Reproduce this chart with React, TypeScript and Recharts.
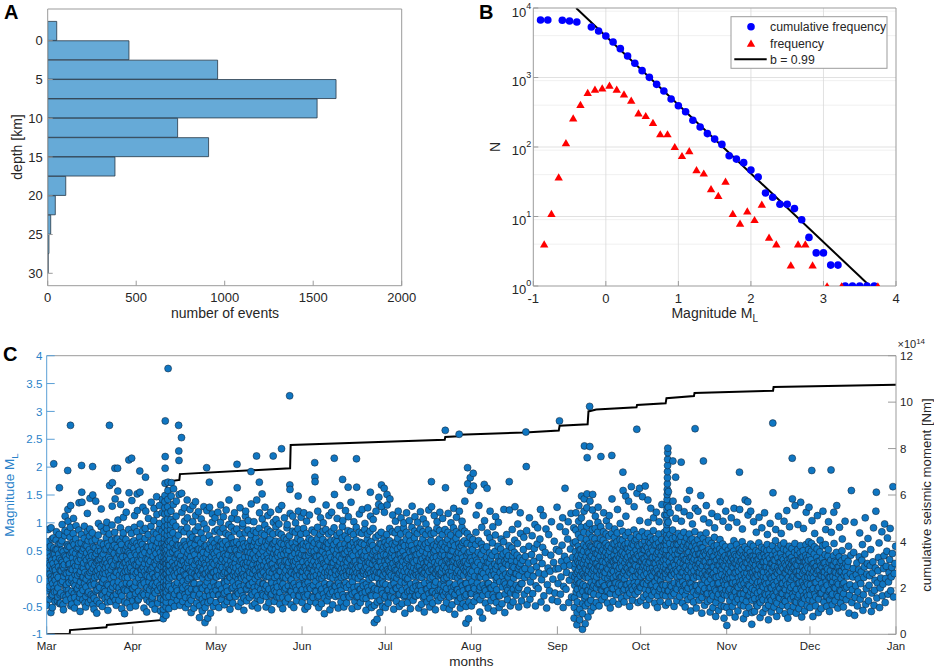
import React from 'react';
import { BarChart, Bar, ComposedChart, Scatter, Line, XAxis, YAxis, CartesianGrid } from 'recharts';

const FONT = '"Liberation Sans", Arial, Helvetica, sans-serif';
const INK = '#262626';
const FRAME = '#9b9b9b';
const MAG_BLUE = '#2a82c9';

// ---- panel A: depth histogram (bin centres, km)
const depthBins = [-1.25, 1.25, 3.75, 6.25, 8.75, 11.25, 13.75, 16.25, 18.75, 21.25, 23.75, 26.25, 28.75];
const depthCounts = [51, 459, 960, 1629, 1522, 734, 909, 380, 102, 43, 17, 7, 3];
const depthTicks = [0, 5, 10, 15, 20, 25, 30];
const eventTicks = [0, 500, 1000, 1500, 2000];

// ---- panel B: frequency-magnitude
const cumMag = [-0.9, -0.8, -0.6, -0.5, -0.4, -0.2, -0.1, 0, 0.1, 0.2, 0.3, 0.4, 0.5, 0.6, 0.7, 0.8, 0.9, 1.0,
  1.1, 1.2, 1.3, 1.4, 1.5, 1.6, 1.7, 1.8, 1.9, 2.0, 2.1, 2.2, 2.3, 2.4, 2.5, 2.6, 2.7, 2.8, 2.9, 3.0,
  3.1, 3.2, 3.3, 3.4, 3.5, 3.6, 3.7];
const cumCount = [6720, 6720, 6650, 6500, 6290, 5330, 4670, 3955, 3240, 2600, 2040, 1600, 1254, 1005, 797, 640, 491, 393,
  322, 242, 194, 156, 130, 109, 75, 67, 59.5, 46.7, 37, 21.8, 18.9, 15, 15, 13, 9, 5, 3, 3,
  2, 2, 1, 1, 1, 1, 1];
const freqMag = [-0.85, -0.75, -0.65, -0.55, -0.45, -0.35, -0.25, -0.15, -0.05, 0.05, 0.15, 0.25, 0.35, 0.45, 0.55,
  0.65, 0.75, 0.85, 0.95, 1.05, 1.15, 1.25, 1.35, 1.45, 1.55, 1.65, 1.75, 1.85, 1.95, 2.05, 2.15, 2.25, 2.35,
  2.55, 2.65, 2.75, 2.85, 3.05, 3.25, 3.75];
const freqCount = [4, 11, 37, 115, 261, 407, 605, 676, 706, 771, 676, 579, 469, 308, 282,
  224, 154, 154, 101, 75, 88, 47, 42, 25, 20, 32, 11, 8, 12, 9, 15, 5, 4,
  2, 4, 4, 2, 1, 1, 1];
const fitMag = [-0.41, 3.64];
const fitCount = [10000, 1];
const magTicksB = [-1, 0, 1, 2, 3, 4];
const countTicks = [1, 10, 100, 1000, 10000];
const minorMultipliers = [2, 3, 4, 5, 6, 7, 8, 9];

// ---- panel C: events per day, magnitudes in hundredths
const monthNames = ['Mar', 'Apr', 'May', 'Jun', 'Jul', 'Aug', 'Sep', 'Oct', 'Nov', 'Dec', 'Jan'];
const monthLengths = [31, 30, 31, 30, 31, 31, 30, 31, 30, 31];

const marQuakes = [
  '-48 -22 -5 12 31 47 66 88 19', '-37 -14 8 24 39 58 -61 91 3', '-52 -29 -9 17 27 44 73 206 55 -18',
  '-41 -3 15 36 52 69 84 -24 6', '-33 -17 2 21 44 62 79 163 -45', '-44 -26 -8 14 33 51 68 97 29',
  '-56 -31 4 18 25 41 77 86 112', '-39 -19 -11 9 34 53 61 83 194 124 103', '-28 -7 11 26 42 57 74 92 275 131 -49',
  '-46 -23 1 16 37 48 65 81 108', '-53 -34 -13 7 22 45 71 95 -2', '-42 -18 6 23 31 56 63 87 136',
  '-59 -27 -6 13 35 43 64 79 203 155 137', '-38 -21 3 19 28 54 72 94 -9', '-51 -32 -15 -1 33 46 59 84 117',
  '-43 -24 5 22 38 52 76 89 144 11', '-29 -12 14 27 41 67 82 201 150 -47', '-55 -35 -10 2 24 40 55 70 139',
  '-62 -40 -20 4 15 32 50 78 99', '-45 -16 7 18 36 49 64 93 125', '-50 -30 -7 10 26 44 61 85 -1',
  '-36 -23 9 20 34 53 73 90 101', '-57 -33 -12 12 21 39 58 80 275 167', '-41 -19 0 16 30 51 69 96 130 172',
  '-32 -8 4 25 45 60 83 198 143', '-48 -28 -14 11 37 55 71 198 157 105', '-39 -17 6 24 43 50 66 91 133',
  '-54 -31 -11 3 23 39 75 82 110', '-63 -42 -21 1 13 29 52 70 119', '-44 -22 2 14 33 48 62 88 213 154',
  '-52 -30 -9 15 20 41 59 81 216 140',
];
const marDense = [
  '-17 27 8 56', '-31 -2 33 71', '3 -24 44 19', '-11 52 -40 29', '36 -29 15 63', '-5 22 -47 48', '10 -15 39 -33',
  '58 -21 25 1', '-36 17 46 -3', '28 -9 61 -27', '14 35 -20 54', '-12 42 -34 9', '21 -17 50 2', '-44 11 37 60',
  '7 -26 24 68', '-8 31 -38 46', '18 -31 57 -4', '-22 12 45 29', '34 -13 22 59', '-29 3 41 -6', '16 -19 52 30',
  '-10 27 -42 63', '5 -27 34 49', '-15 22 58 -33', '-39 12 33 71', '24 -6 47 -22', '-25 15 36 61', '9 -19 51 28',
  '-8 40 19 57', '-33 26 -12 45', '30 -18 6 66',
];
const aprQuakes = [
  '-40 -18 4 13 32 54 68 92 113', '-49 -27 -6 9 24 42 63 84 152 122', '-37 -23 1 22 30 51 74 193 155 98',
  '-31 -12 7 16 35 43 61 86 128', '-53 -29 -8 12 27 47 72 90 182 121', '-60 -38 -16 5 18 34 56 79 108',
  '-42 -20 3 15 31 49 66 94 137', '-47 -33 -10 8 21 40 70 83 104 126', '-55 -26 -13 2 25 45 58 80 147 115',
  '-44 -21 6 17 36 53 73 89 131 99', '-58 -36 -17 0 22 39 62 85 118 142',
  '-72 -63 -55 -46 -38 -27 -15 -6 4 13 21 30 38 47 55 64 72 81 93 104 116 127 138 149 171 198 219 283 -31 8 33 58 -11 26 49 -20 17 42',
  '-66 -51 -42 -33 -24 -12 -3 9 18 27 36 44 53 61 70 78 87 96 107 118 129 142 158 173 377 -19 14 41 66 2 31 24 -8',
  '-54 -32 -14 1 12 24 35 46 57 68 79 88 97 106 121 148 172 -22', '-43 -19 3 16 29 48 63 82 101 133 161',
  '-50 -28 -11 5 23 37 52 71 94 112 139', '-39 -22 -7 10 28 44 59 78 275 229 212 151',
  '-48 -31 2 14 26 40 60 88 253 153 119', '-41 -17 -5 13 31 50 67 84 127 103', '-52 -34 -12 6 20 38 57 91 141 109',
  '-45 -24 0 18 33 51 69 80 124', '-61 -39 -19 3 11 30 54 74 102 131', '-53 -30 -9 8 25 43 61 86 138 113',
  '-44 -20 4 15 34 52 70 93 120', '-70 -49 -28 -10 7 21 41 64 82 107', '-58 -37 -18 1 16 35 47 72 129 98',
  '-79 -52 -31 -12 9 24 38 59 89 199 122', '-71 -43 -22 2 12 33 53 77 173 128', '-62 -40 -14 5 19 39 56 69 101 116',
  '-50 -29 -7 11 26 44 63 85 109',
];
const aprDense = [
  '-14 25 46 -31', '12 -39 33 58', '-9 41 16 65', '-26 20 52 -3', '6 35 -19 57', '-29 26 -6 44', '17 -13 58 -37',
  '-22 28 2 51', '33 -7 14 65', '-13 24 -35 47', '11 -24 55 30', '', '', '', '-33 22 9 54', '-16 17 43 60',
  '20 -30 36 3', '-12 32 55 -21', '7 -29 24 60', '-3 28 45 -18', '-35 13 39 62', '21 -8 48 -28', '-19 4 32 70',
  '13 -32 53 27', '-17 29 52 14', '-44 8 27 58', '18 -6 45 -22', '-31 25 63 7', '29 -24 11 47', '-15 36 55 3',
];
const mayQuakes = [
  '-43 -21 3 14 32 49 71 88 119', '-52 -30 -11 6 22 41 58 83 101 132', '-38 -19 5 20 35 54 62 90 111',
  '-47 -26 -8 12 29 40 67 81 123', '-41 -23 -4 10 24 43 60 78 97 141', '-55 -33 2 15 31 52 73 92 108',
  '-44 -16 -6 7 21 38 64 85 118', '-32 -13 4 19 36 50 66 89 205 163 106', '-50 -27 -9 13 23 42 61 80 127',
  '-42 -22 1 16 33 55 70 94 99', '-57 -35 -12 3 18 39 57 82 112 121', '-40 -18 6 22 30 48 63 87 104',
  '-34 -11 2 11 28 46 69 79 192 134', '-49 -29 -7 9 25 44 59 86 102', '-45 -24 0 14 37 51 72 83 220 141',
  '-53 -31 -14 4 20 41 65 90 173 118', '-39 -20 7 21 34 53 68 81 152 107', '-30 -10 11 24 39 57 78 96 128',
  '-51 -32 -13 5 19 43 60 88 113', '-43 -19 3 12 31 50 71 84 119', '-56 -28 -8 10 26 38 62 80 220 101',
  '-41 -22 2 17 35 52 67 93 106', '-33 -15 5 23 40 47 58 82 124 98', '-46 -25 -5 13 30 42 63 79 233 131',
  '-54 -34 -10 4 21 44 61 73 109', '-42 -17 1 15 32 49 70 91 97', '-35 -13 6 22 29 51 60 77 328 168 160 117',
  '-47 -23 -2 11 33 40 64 85 112', '-52 -30 -9 8 24 45 57 83 100', '-40 -21 4 16 36 53 72 89 148 121',
  '-31 -12 7 20 38 56 68 80 110',
];
const mayDense = [
  '-12 24 58 -29', '15 -37 31 66', '-28 9 44 -6', '21 -15 55 35', '-33 17 3 52', '-18 24 40 63', '12 -30 53 27',
  '-24 9 43 -2', '31 -15 52 4', '-31 8 27 62', '25 -3 48 -20', '-12 39 13 57', '-26 21 37 58', '16 -16 34 66',
  '-35 6 25 59', '27 -7 45 12', '-27 14 -9 49', '-18 3 31 66', '22 -24 36 68', '-30 25 55 -6', '18 -17 45 63',
  '-25 10 -9 44', '-33 14 29 66', '23 -14 51 2', '-20 31 11 52', '-31 24 43 63', '13 -22 39 -4', '-13 23 55 30',
  '31 -16 12 66', '-30 25 45 -8', '-22 13 43 59',
];
const junQuakes = [
  '-43 -20 2 13 30 52 62 90 118', '-55 -33 -11 5 21 40 59 81 103', '-50 -29 -7 10 27 42 58 72 114',
  '-41 -18 4 19 33 50 69 87 142', '-34 -12 3 14 31 48 64 83 208 182 174', '-44 -23 6 24 39 53 71 92 121',
  '-52 -31 -13 1 22 41 60 79 109', '-45 -19 0 16 35 49 70 85 100', '-63 -35 -9 11 25 43 57 88 132',
  '-40 -22 5 12 32 54 63 80 113', '-56 -27 -10 3 20 38 68 84 119', '-47 -24 1 21 29 51 61 91 216 151',
  '-32 -14 7 15 34 44 66 78 108', '-53 -30 -8 9 23 40 58 82 131', '-42 -21 2 17 36 52 73 93 178 104',
  '-51 -34 -12 4 19 45 62 77 122', '-44 -16 6 22 30 49 71 86 164 111', '-33 -11 8 13 35 53 60 84 137',
  '-54 -28 -6 12 24 41 65 79 102', '-41 -25 3 18 31 50 69 92 215 164', '-50 -32 -14 0 20 43 56 83 116',
  '-43 -19 5 23 33 47 63 81 124', '-35 -13 9 14 37 42 61 88 99', '-57 -36 -10 7 21 39 70 80 127',
  '-46 -22 -1 15 28 52 64 85 155 112', '-52 -31 -13 2 26 44 59 90 106', '-79 -48 -18 4 16 32 51 74 121',
  '-73 -42 -20 1 22 38 55 78 133 146', '-61 -39 -9 10 30 41 62 83 168 129', '-50 -27 -8 6 18 43 57 71 162 119',
];
const junDense = [
  '-30 20 41 -8', '14 -19 31 65', '-15 19 47 3', '25 -32 11 58', '-22 22 40 -5', '-33 15 30 62', '8 -21 33 50',
  '-28 27 5 58', '20 -16 37 65', '-31 15 45 -11', '11 -19 28 55', '-13 36 15 70', '-24 23 53 -3', '30 -14 14 60',
  '-29 10 44 26', '-8 33 53 13', '-30 14 37 59', '23 -21 44 2', '-16 30 55 7', '-33 11 24 62', '9 -20 33 65',
  '-27 12 39 -7', '19 -24 50 27', '-16 30 11 55', '-30 10 38 66', '14 -20 49 33', '-31 25 40 12', '10 -9 31 63',
  '-21 22 50 -2', '-35 12 31 65',
];
const julQuakes = [
  '-52 -31 -11 9 24 42 58 79 151 132', '-44 -20 3 13 32 51 68 90 143', '-33 -12 6 20 38 47 62 84 114',
  '-55 -35 -9 4 19 40 60 82 103', '-41 -18 1 15 34 53 72 88 121', '-50 -28 -13 10 23 44 57 80 109',
  '-45 -21 5 22 31 49 64 91 100', '-62 -30 -7 2 25 41 70 83 118', '-43 -24 0 12 36 52 61 78 104',
  '-54 -33 -10 8 21 38 59 92 130', '-39 -17 4 19 29 51 73 85 111', '-31 -14 7 16 33 43 63 81 101',
  '-53 -29 -12 3 22 45 56 89 120', '-46 -22 2 14 35 50 71 84 107', '-60 -32 -8 11 20 40 62 79 98',
  '-42 -19 6 18 30 54 65 87 123', '-51 -36 -13 1 24 43 69 80 174 129', '-44 -23 3 15 37 48 60 82 113',
  '-56 -27 -6 9 21 39 58 90 102', '-40 -21 5 17 32 52 71 86 119', '-34 -10 8 12 28 44 63 79 108',
  '-52 -30 -14 0 23 41 57 88 266 163', '-43 -18 2 19 34 53 70 83 117', '-55 -33 -9 7 26 42 61 78 100',
  '-47 -24 4 21 31 50 66 91 126', '-64 -28 -11 3 19 38 72 84 110', '-41 -20 1 14 36 47 62 80 259 121',
  '-53 -35 -7 10 25 44 59 92 103', '-45 -22 6 18 30 51 68 85 139', '-80 -50 -29 -9 12 22 41 63 81 199 170',
  '-72 -42 -18 2 15 33 48 74 181 158',
];
const julDense = [
  '-21 16 34 61', '11 -30 40 24', '-22 27 52 -4', '15 -17 32 66', '-29 8 43 25', '-6 36 15 64', '-32 13 40 59',
  '18 -17 33 -2', '-22 23 48 67', '12 -22 31 50', '-31 10 42 -8', '22 -22 54 8', '-13 31 14 63', '-34 9 27 58',
  '21 -19 46 31', '-27 13 37 -5', '16 -24 33 57', '-12 29 51 10', '-32 15 26 67', '8 -20 41 60', '-24 19 51 -3',
  '14 -24 32 66', '-30 11 42 28', '20 -17 50 13', '-14 33 -31 59', '10 -20 44 27', '-25 28 56 6', '22 -13 37 65',
  '-32 14 31 -8', '27 -18 46 5', '-27 9 37 60',
];
const augQuakes = [
  '-49 -27 -6 13 31 52 70 189 166', '-41 -18 4 22 40 61 83 114', '-33 -8 14 29 47 68 131',
  '-60 -38 -15 3 24 43 62 92', '-71 -30 -11 9 33 51 169 104', '-44 -22 1 19 38 57 162 82',
  '-53 -29 -9 12 28 46 73 121', '-40 -17 6 21 42 64 93', '-58 -34 -12 7 26 49 78 111',
  '-43 -20 2 23 39 58 101', '-52 -31 -6 11 30 53 71', '-45 -15 4 17 44 66 124',
  '-61 -28 -10 8 27 48 79', '-38 -21 3 24 41 59 174 123', '-49 -26 -8 13 32 55 88',
  '-42 -19 1 20 47 69 129', '-30 -12 9 31 42 63 98', '-51 -16 5 22 37 118 81',
  '-40 -9 14 33 52 74', '-28 2 18 40 263 201 86', '-47 -21 7 28 58 109', '-37 -6 16 43 77',
  '-27 4 31 54 97', '-49 -13 21 62 91', '-18 10 38 71 124', '-42 -2 27 56 113', '-31 8 47 89',
  '-53 -11 19 79', '-22 13 42 102', '-38 -1 29 67', '-26 17 52 128',
];
const augDense = [
  '-15 24', '-30 33', '3 -20', '12 55', '-18 21', '29 -9', '-17 36', '-29 13', '17 -2', '-31 31', '22 41', '-6 30',
  '-17 36', '10 -11', '22 41', '-28 9', '-20 18', '27 -9',
];
const sepQuakes = [
  '-41 -9 18 49 283 93', '-28 3 31 60 109', '-52 -14 22 40 162 84', '-19 11 33 71 102', '-43 -3 24 53 117',
  '-33 6 38 64 91', '-71 -52 -34 -12 3 19 27 48 66 87 118', '-83 -61 -42 -19 -2 12 30 41 58 79 103 131',
  '-74 -55 -28 -8 5 21 37 52 73 92 109 148', '-91 -63 -45 -23 -11 8 26 49 61 83 121 143 238',
  '-81 -49 -31 -14 2 17 39 57 70 94 127 152 217', '-69 -44 -21 1 14 33 46 62 81 99 309 237 139',
  '-58 -39 -24 -7 9 23 41 56 74 88 123 151', '-51 -28 -12 4 18 36 53 71 90 112',
  '-43 -17 3 15 27 44 61 83 101 128', '-49 -30 -9 8 22 40 58 72 93 219', '-38 -21 -6 6 20 31 52 69 84 118',
  '-32 -13 2 11 29 47 63 80 104', '-44 -22 0 17 34 43 59 76 94 113', '-53 -27 -11 9 24 38 55 81 221 143',
  '-41 -18 1 13 30 42 62 74 89', '-29 -8 5 22 35 50 66 82 124', '-46 -24 -10 7 19 37 54 70 99',
  '-35 -12 3 21 33 48 69 85 191 158', '-42 -19 -1 14 28 45 61 77 148 112', '-31 -11 6 18 39 53 64 83 139',
  '-50 -26 -8 10 25 41 56 73 165', '-39 -20 2 15 32 46 60 87 129', '-28 -14 4 23 36 51 71 79 268 153',
  '-43 -23 -7 8 21 40 58 75 162 104',
];
const sepDense = [
  '', '', '', '', '', '', '-24 9 36 -6', '16 -9 27 51', '-17 28 43 12', '-35 4 34 19', '-22 26 48 7',
  '-12 22 39 58', '-15 15 31 50', '-4 27 45 62', '-10 21 36 52', '-20 14 31 49', '-14 12 41 60', '-23 19 38 56',
  '-9 26 49 5', '-18 15 31 63', '-8 23 51 34', '-16 14 41 58', '2 28 45 61', '-22 10 41 58', '-11 20 35 54',
  '-20 12 28 47', '-15 16 33 62', '-8 25 38 68', '-20 12 43 60', '-15 14 31 49',
];
const octQuakes = [
  '-40 -16 3 12 31 43 62 84 147', '-33 -9 6 24 35 52 67 76 166', '-48 -29 -10 9 20 41 55 81 141 101',
  '-37 -21 2 17 30 44 63 74 126', '-30 -11 5 19 38 50 69 86 109', '-44 -24 -6 11 27 39 61 72 119',
  '-52 -31 1 14 33 48 64 80 102', '-41 -18 -4 8 22 42 57 70 133', '-29 -12 4 21 34 53 60 83 114',
  '-48 -31 -12 2 9 18 26 35 44 52 61 69 78 88 97 106 115 124 133 142 151 160 170 181 192 203 214 226 234 -22 13 41 73 101 128 156',
  '-43 -22 0 15 29 41 63 79 118', '-31 -14 6 20 37 49 72 87 211 139', '-50 -27 -8 9 24 43 52 74 182 108',
  '-40 -19 3 13 33 45 61 81 127', '-32 -10 5 18 29 51 66 76 209 103', '-44 -23 -6 12 26 40 59 83 120',
  '-51 -30 -11 4 22 34 54 73 142', '-38 -17 2 16 31 47 62 80 158 113', '-58 -33 -9 10 21 39 57 71 98',
  '-42 -24 1 14 35 50 64 84 269 126', '-53 -29 -13 5 19 32 53 70 121', '-39 -20 3 11 28 44 61 78 149',
  '-62 -34 -12 8 23 41 55 72 211 107', '-48 -18 -2 13 30 43 65 82 131', '-41 -27 -7 6 20 37 52 69 100',
  '-60 -38 -16 -1 14 29 48 63 117', '-52 -31 -10 9 21 40 58 74 91', '-68 -43 -22 2 15 33 51 60 111',
  '-57 -28 -8 4 24 38 53 70 138', '-49 -37 -19 7 18 31 49 62 103', '-71 -50 -29 -11 3 22 41 57 121',
];
const octDense = [
  '-8 21 36 52', '-20 14 29 58', '-3 27 47 66', '-12 10 37 55', '-21 13 28 60', '-14 18 45 3', '-22 8 27 56',
  '-11 30 49 14', '-20 11 40 65', '', '-12 21 52 7', '-24 13 28 60', '-17 16 34 61', '-8 24 51 70', '-20 11 38 55',
  '-13 20 34 66', '-21 12 45 60', '-8 23 38 69', '-16 3 31 47', '-12 23 43 58', '-22 11 26 44', '-10 19 36 55',
  '-23 1 31 47', '-28 7 22 50', '-17 13 29 44', '-27 7 21 39', '-19 2 31 49', '-33 -9 24 43', '-19 14 31 46',
  '-27 -5 24 38', '-21 -2 13 33',
];
const novQuakes = [
  '-84 -52 -30 -12 1 18 37 51 92', '-61 -40 -19 0 12 31 44 58 109', '-50 -33 -8 3 20 34 49 68 126',
  '-69 -42 -24 -7 11 27 40 61 101', '-58 -37 -16 2 13 23 42 53 191 124', '-47 -28 -11 5 18 32 51 66 89',
  '-72 -49 -27 -9 9 21 38 57 141', '-63 -41 -20 -3 10 28 43 52 138 114', '-52 -30 -13 4 19 33 47 62 121',
  '-82 -61 -39 -18 -4 11 29 40 58 102', '-59 -36 -21 1 14 24 41 50 83', '-49 -26 -7 6 17 35 48 64 110',
  '-70 -43 -23 -6 8 22 39 56 91', '-61 -38 -15 3 12 30 44 53 118', '-53 -29 -10 2 21 31 50 61 79',
  '-74 -48 -28 -8 7 19 36 52 99', '-60 -39 -17 0 14 27 42 59 279 154', '-51 -32 -12 4 22 33 49 68 88',
  '-68 -44 -24 -5 9 20 37 55 112', '-57 -35 -18 1 13 29 45 60 81', '-48 -27 -9 3 18 34 53 64 103',
  '-63 -41 -20 -4 10 23 41 51 122', '-71 -50 -31 2 15 28 44 58 93', '-59 -37 -16 -2 11 25 38 54 216 143',
  '-50 -33 -12 5 20 31 47 63 131', '-62 -42 -19 0 12 24 43 52 97', '-54 -29 -8 6 14 32 46 59 137',
  '-69 -45 -22 -6 9 21 39 50 90', '-58 -36 -15 1 16 30 42 61 119', '-49 -31 -10 3 19 33 52 66 128',
];
const novDense = [
  '-22 8 26 44', '-30 -8 22 37', '-21 10 28 43', '-33 -14 19 33', '-27 -6 30 47', '-37 -3 25 41', '-18 2 29 46',
  '-31 -11 18 36', '-24 10 26 40', '-29 3 19 34', '-47 -11 8 33', '-36 -16 25 41', '-33 -13 14 30', '-27 -5 21 38',
  '-40 -19 12 41', '-34 -16 2 27', '-28 -8 20 34', '-41 -21 12 42', '-33 -14 15 29', '-26 -9 21 37',
  '-38 -18 10 27', '-30 -11 16 33', '-21 -9 21 36', '-28 3 18 31', '-41 -23 12 26', '-33 -9 6 33',
  '-43 -18 22 38', '-31 -12 14 30', '-25 -6 23 37', '-38 -20 9 42',
];
const decQuakes = [
  '-52 -29 -11 2 18 34 49 63 194 104', '-68 -40 -18 1 13 27 44 57 81', '-49 -33 -7 9 22 38 53 113',
  '-61 -37 -16 0 15 31 48 69', '-54 -26 -9 5 20 36 59 121', '-42 -19 3 12 28 43 61 88',
  '-50 -31 -12 7 17 40 52 102', '-59 -38 -21 2 14 33 195 83', '-47 -28 -6 4 24 41 119 63',
  '-40 -17 1 11 29 47 131', '-53 -32 -10 8 21 39 92', '-44 -22 0 13 32 50 71', '-51 -27 -8 6 19 37 103',
  '-38 -15 4 22 31 58', '-62 -30 -11 9 42 158', '-43 -20 3 18 47 101', '-66 -34 -13 7 28',
  '-49 -24 -1 16 39 82', '-37 -9 12 33 61', '-57 -29 2 21 44 109', '-46 -18 8 27 72', '-40 -12 5 23 52',
  '-59 -26 10 30 91', '-48 -21 -3 19 121 155', '-35 -8 14 38 64', '-52 -17 1 29 84', '-31 -10 18 41 98',
  '-43 0 22 49 73', '-28 -6 11 34 90', '-22 3 20 45 165', '-33 9 27 58',
];
const decDense = [
  '-20 9 26', '-28 -7 20', '-19 14 31', '-27 6 23', '-17 12 28', '-32 -6 20', '-23 2 29', '-30 -9 24',
  '-16 12 31', '-28 -7 20', '-21 13 29', '-33 -10 22', '-17 11 27',
];

// cumulative seismic moment (x10^14 Nm) against days since 1 Mar
const momentDay = [0, 8.3, 8.4, 21.5, 21.7, 41.9, 42.1, 42.9, 43.2, 45.0, 47.8, 48.0, 87.7, 87.9, 143.4,
  143.6, 148.3, 148.5, 172.3, 184.5, 184.8, 194.9, 195.2, 198, 212.5, 212.7, 223.0, 223.3, 233.2, 233.4,
  261.7, 261.9, 306];
const momentValue = [0, 0.02, 0.18, 0.3, 0.4, 0.62, 0.8, 0.85, 6.5, 6.6, 6.65, 6.9, 7.15, 8.15, 8.38,
  8.5, 8.53, 8.6, 8.69, 8.78, 8.98, 9.05, 9.6, 9.68, 9.78, 9.88, 9.95, 10.17, 10.26, 10.39,
  10.49, 10.65, 10.75];
const magTicksC = [-1, -0.5, 0, 0.5, 1, 1.5, 2, 2.5, 3, 3.5, 4];
const momentTicks = [0, 2, 4, 6, 8, 10, 12];

const monthTicks = monthLengths.reduce((acc, len) => [...acc, acc[acc.length - 1] + len], [0]);
const catalogue = [
  [marQuakes, marDense], [aprQuakes, aprDense], [mayQuakes, mayDense], [junQuakes, junDense],
  [julQuakes, julDense], [augQuakes, augDense], [sepQuakes, sepDense], [octQuakes, octDense],
  [novQuakes, novDense], [decQuakes, decDense],
];
const quakes = catalogue.flatMap(([days, extra], mi) => days.flatMap((day, d) => {
  const mags = `${day} ${extra[d] ?? ''}`.trim().split(/\s+/);
  // events spread through the day in listed order
  return mags.map((v, i) => ({ t: monthTicks[mi] + d + (i + 0.5) / mags.length, m: Number(v) / 100 }));
}));
const moment = momentDay.map((t, i) => ({ t, mo: momentValue[i] }));

const AxisTitle = ({ draw }: any) => draw();

const PowTick = ({ x, y, payload }: any) => (
  <text x={x} y={y + 8} textAnchor="end" fill={INK} fontSize={13} fontFamily={FONT}>
    10<tspan dy={-8} fontSize={9}>{Math.round(Math.log10(payload.value))}</tspan>
  </text>
);

const blueDot = ({ cx, cy }: any) => <circle cx={cx} cy={cy} r={3.8} fill="#0000ff" />;
const redTriangle = ({ cx, cy }: any) => (
  <polygon points={`${cx},${cy - 3.8} ${cx + 4.2},${cy + 3.4} ${cx - 4.2},${cy + 3.4}`} fill="#ff0000" />
);
const quakeDot = ({ cx, cy }: any) => (
  <circle cx={cx} cy={cy} r={3.5} fill="#0f76c2" stroke="#14273a" strokeWidth={0.55} />
);

const tickAB = { fill: INK, fontSize: 13, fontFamily: FONT };
const tickC = { fill: INK, fontSize: 11.5, fontFamily: FONT };

function DepthPanel() {
  const data = depthBins.map((depth, i) => ({ depth, count: depthCounts[i] }));
  return (
    <BarChart width={420} height={330} data={data} layout="vertical" barCategoryGap={0} barGap={0}
      margin={{ top: 8, right: 17.3, bottom: 4.3, left: 0 }}>
      <XAxis type="number" dataKey="count" domain={[0, 2000]} ticks={eventTicks} allowDataOverflow height={40}
        stroke={FRAME} tickSize={-5} tickMargin={12.3} tick={tickAB}
        label={<AxisTitle draw={() => (
          <text x={225} y={318} textAnchor="middle" fontSize={14} fill={INK} fontFamily={FONT}>number of events</text>
        )} />} />
      <XAxis xAxisId="top" orientation="top" type="number" domain={[0, 2000]} ticks={eventTicks} allowDataOverflow
        height={1} stroke={FRAME} tickSize={-5} tick={false} />
      <YAxis type="number" dataKey="depth" domain={[-4.1, 31.6]} ticks={depthTicks} allowDataOverflow
        width={47.7} stroke={FRAME} tickSize={-5} tickMargin={10} tick={tickAB}
        label={<AxisTitle draw={() => (
          <text transform="translate(22,147) rotate(-90)" textAnchor="middle" fontSize={14} fill={INK} fontFamily={FONT}>depth [km]</text>
        )} />} />
      <YAxis yAxisId="right" orientation="right" type="number" domain={[-4.1, 31.6]} ticks={depthTicks}
        allowDataOverflow width={1} stroke={FRAME} tickSize={-5} tick={false} />
      <Bar dataKey="count" fill="#66aad7" stroke="#263746" strokeWidth={0.8} isAnimationActive={false} />
    </BarChart>
  );
}

function GutenbergPanel() {
  const cum = cumMag.map((m, i) => ({ m, n: cumCount[i] }));
  const freq = freqMag.map((m, i) => ({ m, n: freqCount[i] }));
  const fit = fitMag.map((m, i) => ({ m, n: fitCount[i] }));
  const minorN = [1, 10, 100, 1000].flatMap((d) => minorMultipliers.map((k) => d * k));
  return (
    <ComposedChart width={514} height={330} margin={{ top: 7, right: 37, bottom: 4, left: 0 }}>
      <CartesianGrid vertical={false} horizontalValues={minorN} stroke="#ececec" strokeWidth={0.8} />
      <CartesianGrid horizontalValues={[10, 100, 1000]} verticalValues={[0, 1, 2, 3]} stroke="#d9d9d9" strokeWidth={0.8} />
      <XAxis type="number" dataKey="m" domain={[-1, 4]} ticks={magTicksB} allowDataOverflow height={40}
        stroke={FRAME} tickSize={-5} tickMargin={13} tick={tickAB}
        label={<AxisTitle draw={() => (
          <text x={294.7} y={318} textAnchor="middle" fontSize={14} fill={INK} fontFamily={FONT}>
            Magnitude M<tspan dy={4} fontSize={10}>L</tspan>
          </text>
        )} />} />
      <XAxis xAxisId="top" orientation="top" type="number" domain={[-1, 4]} ticks={magTicksB} allowDataOverflow
        height={1} stroke={FRAME} tickSize={-5} tick={false} />
      <YAxis type="number" dataKey="n" scale="log" domain={[1, 10000]} ticks={countTicks} allowDataOverflow
        width={113.3} stroke={FRAME} tickSize={-5} tickMargin={7} tick={<PowTick />}
        label={<AxisTitle draw={() => (
          <text transform="translate(80,147) rotate(-90)" textAnchor="middle" fontSize={14} fill={INK} fontFamily={FONT}>N</text>
        )} />} />
      <YAxis yAxisId="right" orientation="right" type="number" scale="log" domain={[1, 10000]} ticks={countTicks}
        allowDataOverflow width={1} stroke={FRAME} tickSize={-5} tick={false} />
      <Scatter data={cum} shape={blueDot} isAnimationActive={false} />
      <Scatter data={freq} shape={redTriangle} isAnimationActive={false} />
      <Line data={fit} dataKey="n" stroke="#000" strokeWidth={2} dot={false} isAnimationActive={false} />
    </ComposedChart>
  );
}

function TimelinePanel() {
  return (
    <ComposedChart width={934} height={349} margin={{ top: 34.7, right: 0, bottom: 0, left: 0 }}>
      <XAxis type="number" dataKey="t" domain={[0, 306]} ticks={monthTicks} allowDataOverflow height={34.7}
        tickFormatter={(v) => monthNames[monthTicks.indexOf(v)]}
        stroke={FRAME} tickSize={-8} tickMargin={16} tick={tickC}
        label={<AxisTitle draw={() => (
          <text x={471.3} y={346} textAnchor="middle" fontSize={13.5} fill={INK} fontFamily={FONT}>months</text>
        )} />} />
      <XAxis xAxisId="top" orientation="top" type="number" domain={[0, 306]} ticks={monthTicks} allowDataOverflow
        height={1} stroke={FRAME} tickSize={-8} tick={false}
        label={<AxisTitle draw={() => (
          <text x={897.5} y={27.5} fontSize={11} fill={INK} fontFamily={FONT}>
            ×10<tspan dy={-4} fontSize={8}>14</tspan>
          </text>
        )} />} />
      <YAxis yAxisId="mag" type="number" dataKey="m" domain={[-1, 4]} ticks={magTicksC} allowDataOverflow
        width={46.7} stroke="#5a9fd6" tickSize={-8} tickMargin={12.4}
        tick={{ fill: MAG_BLUE, fontSize: 11.5, fontFamily: FONT }}
        label={<AxisTitle draw={() => (
          <text transform="translate(14,175) rotate(-90)" textAnchor="middle" fontSize={13.5} fill={MAG_BLUE} fontFamily={FONT}>
            Magnitude M<tspan dy={4} fontSize={9.5}>L</tspan>
          </text>
        )} />} />
      <YAxis yAxisId="mo" orientation="right" type="number" domain={[0, 12]} ticks={momentTicks} allowDataOverflow
        width={38} stroke={FRAME} tickSize={-8} tickMargin={12} tick={tickC}
        label={<AxisTitle draw={() => (
          <text transform="translate(931,175) rotate(-90)" textAnchor="middle" fontSize={13.2} fill={INK} fontFamily={FONT}>
            cumulative seismic moment [Nm]
          </text>
        )} />} />
      <Scatter yAxisId="mag" data={quakes} shape={quakeDot} isAnimationActive={false} />
      <Line yAxisId="mo" data={moment} dataKey="mo" stroke="#000" strokeWidth={2} dot={false} isAnimationActive={false} />
    </ComposedChart>
  );
}

export default function App() {
  return (
    <div style={{ position: 'absolute', left: 0, top: 0, width: 934, height: 669, background: '#fff', fontFamily: FONT }}>
      <div style={{ position: 'absolute', left: 0, top: 0 }}><DepthPanel /></div>
      <div style={{ position: 'absolute', left: 420, top: 0 }}><GutenbergPanel /></div>
      <div style={{ position: 'absolute', left: 0, top: 320 }}><TimelinePanel /></div>
      <svg width={934} height={669} style={{ position: 'absolute', left: 0, top: 0, pointerEvents: 'none' }}>
        <g fontFamily={FONT} fontWeight="bold" fontSize={20} fill="#000">
          <text x={4} y={19}>A</text>
          <text x={479} y={19}>B</text>
          <text x={3} y={361}>C</text>
        </g>
        <g fontFamily={FONT} fontSize={12.3} fill={INK}>
          <rect x={731} y={16.7} width={156} height={51.6} fill="#fff" stroke={FRAME} />
          <circle cx={751} cy={26.7} r={3.8} fill="#0000ff" />
          <text x={770} y={31}>cumulative frequency</text>
          <polygon points="751,39.5 755.2,46.7 746.8,46.7" fill="#ff0000" />
          <text x={770} y={47.5}>frequency</text>
          <line x1={734.3} x2={766.7} y1={59.3} y2={59.3} stroke="#000" strokeWidth={2} />
          <text x={770} y={63.5}>b = 0.99</text>
        </g>
      </svg>
    </div>
  );
}
